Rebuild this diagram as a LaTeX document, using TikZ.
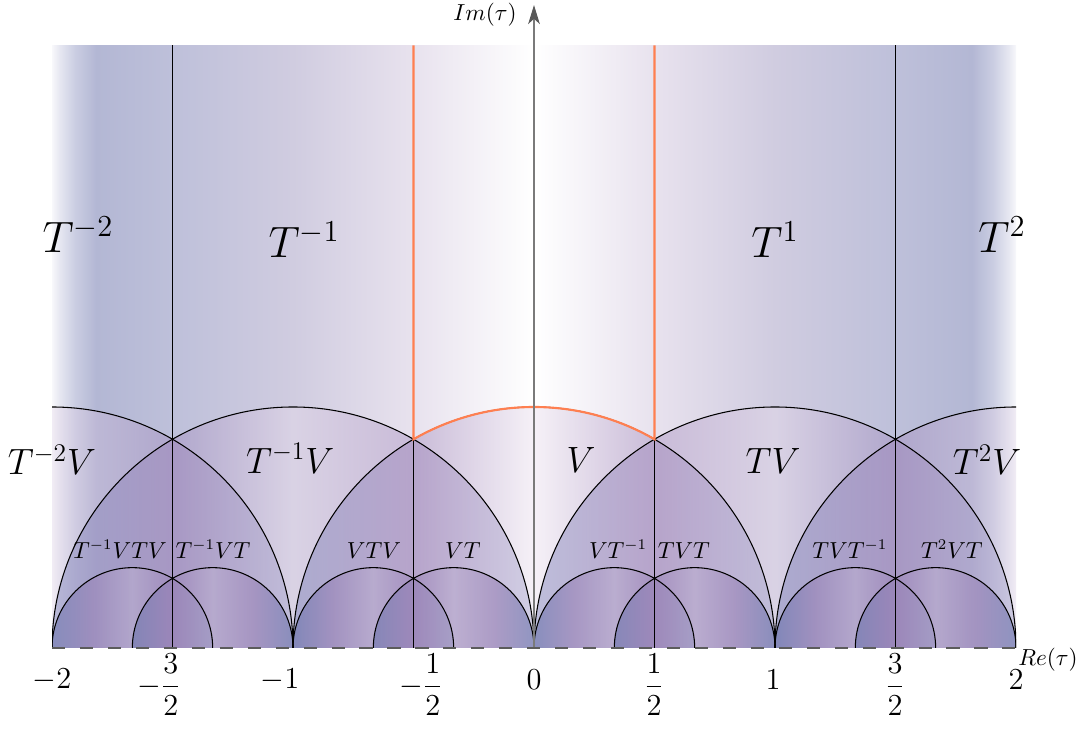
\documentclass[tikz,border=0pt]{standalone}
\usetikzlibrary{arrows.meta}
\definecolor{bgedge}{HTML}{F8F8FB}
\definecolor{bgfa}{HTML}{E6E7F1}
\definecolor{bgfb}{HTML}{CACDE2}
\definecolor{bgblue}{HTML}{B3B7D4}
\definecolor{bgbtwo}{HTML}{BEC0DA}
\definecolor{bglav}{HTML}{D0CCE0}
\definecolor{bglight}{HTML}{E8E2EE}
\definecolor{cblue}{HTML}{6B73B1}
\definecolor{cpurp}{HTML}{9C82B8}
\definecolor{clight}{HTML}{E8DCEC}
\definecolor{sblue}{HTML}{6670AA}
\definecolor{spurp}{HTML}{9A84B8}
\definecolor{slight}{HTML}{BBAED0}
\definecolor{fundor}{HTML}{FF7F50}
\definecolor{axgray}{HTML}{7A7A7A}
\definecolor{dashgray}{HTML}{5C5C5C}
\pgfdeclarehorizontalshading{bgshade}{100bp}{color(0bp)=(white); color(25bp)=(bgedge); color(25.4bp)=(bgfa); color(26.2bp)=(bgfb); color(27.3bp)=(bgblue); color(31.25bp)=(bgbtwo); color(37.5bp)=(bglav); color(43.75bp)=(bglight); color(50bp)=(white); color(56.25bp)=(bglight); color(62.5bp)=(bglav); color(68.75bp)=(bgbtwo); color(72.7bp)=(bgblue); color(73.8bp)=(bgfb); color(74.6bp)=(bgfa); color(75bp)=(bgedge); color(100bp)=(white)}
\pgfdeclarehorizontalshading{cellshade}{100bp}{color(0bp)=(cblue); color(25bp)=(cblue); color(37.5bp)=(cpurp); color(50bp)=(clight); color(62.5bp)=(cpurp); color(75bp)=(cblue); color(100bp)=(cblue)}
\pgfdeclarehorizontalshading{smallshade}{100bp}{color(0bp)=(sblue); color(25bp)=(sblue); color(37.5bp)=(spurp); color(50bp)=(slight); color(62.5bp)=(spurp); color(75bp)=(sblue); color(100bp)=(sblue)}
\tikzset{
  bigl/.style={anchor=base, font=\fontsize{22}{26}\selectfont},
  medl/.style={anchor=base, font=\fontsize{17}{20}\selectfont},
  smalll/.style={anchor=base, font=\fontsize{10.5}{12}\selectfont},
  tickl/.style={anchor=center, font=\fontsize{13.5}{16}\selectfont},
  axl/.style={anchor=center, font=\fontsize{11}{13}\selectfont},
  arcline/.style={black, line width=0.5pt},
  fundline/.style={fundor, line width=1pt},
  bigcell/.style={shading=cellshade, fill opacity=0.4},
  smallcell/.style={shading=smallshade, fill opacity=0.6}
}
\begin{document}
\begin{tikzpicture}[x=4cm,y=4cm]
\useasboundingbox (-2.2158,-0.3900) rectangle (2.2988,2.6888);
\begin{scope}
  \clip (-2,0) rectangle (2,2.5);
  \shade[shading=bgshade] (-2,0) rectangle (2,2.5);
  \foreach \c in {-2,-1,0,1,2} {
    \shade[bigcell] (\c,0) circle (1);
  }
  \foreach \c in {-5/3,-4/3,-2/3,-1/3,1/3,2/3,4/3,5/3} {
    \shade[smallcell] (\c,0) circle (1/3);
  }
  \foreach \c in {-2,-1,0,1,2} {
    \draw[arcline] (\c,0) circle (1);
  }
  \foreach \c in {-5/3,-4/3,-2/3,-1/3,1/3,2/3,4/3,5/3} {
    \draw[arcline] (\c,0) circle (1/3);
  }
\end{scope}
% vertical lines
\coordinate (bm32) at (-1.5,0); \coordinate (tm32) at (-1.5,2.5);
\coordinate (bp32) at (1.5,0);  \coordinate (tp32) at (1.5,2.5);
\coordinate (bm12) at (-0.5,0); \coordinate (cm12) at (-0.5,0.8660254); \coordinate (tm12) at (-0.5,2.5);
\coordinate (bp12) at (0.5,0);  \coordinate (cp12) at (0.5,0.8660254);  \coordinate (tp12) at (0.5,2.5);
\draw[arcline] (bm32) -- (tm32);
\draw[arcline] (bp32) -- (tp32);
\draw[arcline] (bm12) -- (cm12);
\draw[arcline] (bp12) -- (cp12);
% fundamental domain
\draw[fundline] (tm12) -- (cm12) arc[start angle=120, end angle=60, radius=1] -- (tp12);
% axes
\coordinate (o) at (0,0);
\coordinate (imtip) at (0,2.668);
\coordinate (rel) at (-2,0);
\coordinate (rer) at (2,0);
\draw[axgray, line width=0.8pt, -{Stealth[length=9pt,width=5.5pt,inset=2.5pt,color=black!65]}] (o) -- (imtip);
\draw[dashgray, line width=1.3pt, dash pattern=on 6.2pt off 7pt] (rel) -- (rer);
\node[axl] (imlab) at (-0.203,2.627) {$Im(\tau)$};
\node[axl] (relab) at (2.133,-0.050) {$Re(\tau)$};
% big labels
\node[bigl] (Tm2) at (-1.892,1.64) {$T^{-2}$};
\node[bigl] (Tm1) at (-0.954,1.62) {$T^{-1}$};
\node[bigl] (Tp1) at (1.0,1.62) {$T^{1}$};
\node[bigl] (Tp2) at (1.942,1.64) {$T^{2}$};
% medium labels
\node[medl] (Tm2V) at (-2.0,0.72) {$T^{-2}V$};
\node[medl] (Tm1V) at (-1.012,0.726) {$T^{-1}V$};
\node[medl] (V) at (0.195,0.73) {$V$};
\node[medl] (TV) at (0.992,0.726) {$TV$};
\node[medl] (T2V) at (1.88,0.72) {$T^{2}V$};
% small labels
\node[smalll] (s1) at (-1.718,0.373) {$T^{-1}VTV$};
\node[smalll] (s2) at (-1.332,0.373) {$T^{-1}VT$};
\node[smalll] (s3) at (-0.664,0.373) {$VTV$};
\node[smalll] (s4) at (-0.295,0.373) {$VT$};
\node[smalll] (s5) at (0.349,0.373) {$VT^{-1}$};
\node[smalll] (s6) at (0.622,0.373) {$TVT$};
\node[smalll] (s7) at (1.311,0.373) {$TVT^{-1}$};
\node[smalll] (s8) at (1.734,0.373) {$T^{2}VT$};
% tick labels
\node[tickl] (xm2) at (-2.0,-0.133) {$-2$};
\node[tickl] (xm32) at (-1.556,-0.152) {$-\displaystyle\frac{3}{2}$};
\node[tickl] (xm1) at (-1.054,-0.133) {$-1$};
\node[tickl] (xm12) at (-0.469,-0.152) {$-\displaystyle\frac{1}{2}$};
\node[tickl] (x0) at (0,-0.133) {$0$};
\node[tickl] (xp12) at (0.498,-0.152) {$\displaystyle\frac{1}{2}$};
\node[tickl] (xp1) at (0.992,-0.133) {$1$};
\node[tickl] (xp32) at (1.498,-0.152) {$\displaystyle\frac{3}{2}$};
\node[tickl] (xp2) at (2.0,-0.133) {$2$};
\end{tikzpicture}
\end{document}
